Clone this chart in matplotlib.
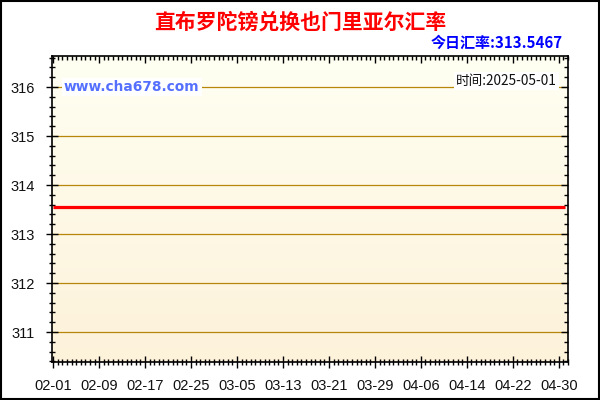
import matplotlib
matplotlib.use("Agg")
import matplotlib.pyplot as plt
import numpy as np
import datetime as dt
from matplotlib.ticker import MultipleLocator, FixedLocator, FixedFormatter, NullFormatter
from matplotlib.patches import Rectangle

# ---- data ----
start_date = dt.date(2025, 2, 1)
n_days = 90  # 02-01 .. 05-01
dates = [start_date + dt.timedelta(days=i) for i in range(n_days)]
rates = [313.5467] * n_days
tick_labels = ["02-01", "02-09", "02-17", "02-25", "03-05", "03-13",
               "03-21", "03-29", "04-06", "04-14", "04-22", "04-30"]
y_ticks = [311, 312, 313, 314, 315, 316]
title = "直布罗陀镑兑换也门里亚尔汇率"
today_text = "今日汇率:313.5467"
site_text = "www.cha678.com"
time_text = "时间:2025-05-01"

cjk = ['Noto Sans CJK SC', 'DejaVu Sans']

fig = plt.figure(figsize=(6, 4), dpi=100)
fig.patch.set_facecolor("white")
ax = fig.add_axes([52/600, 38/400, 516/600, 306/400])

x = np.arange(len(dates))
label_idx = [(dt.datetime.strptime("2025-" + t, "%Y-%m-%d").date() - start_date).days
             for t in tick_labels]

XL = (-0.2, 89.6)
YL = (310.388, 316.633)
ax.set_xlim(*XL)
ax.set_ylim(*YL)

# gradient background
grad = np.linspace(0, 1, 256).reshape(-1, 1)
top = np.array([255, 255, 242]) / 255
bot = np.array([253, 242, 218]) / 255
img = top[None, None, :] * (1 - grad[:, :, None]) + bot[None, None, :] * grad[:, :, None]
ax.imshow(img, extent=[XL[0], XL[1], YL[0], YL[1]], aspect='auto', zorder=0, origin='upper')

grid_color = "#B8860B"
for yv in y_ticks:
    ax.axhline(yv, color=grid_color, lw=0.9, zorder=1)

ax.plot(x, rates, color="#FF0000", lw=2.3, zorder=3, solid_capstyle='butt')

ax.xaxis.set_major_locator(FixedLocator(label_idx))
ax.xaxis.set_minor_locator(MultipleLocator(0.8))
ax.yaxis.set_major_locator(FixedLocator(y_ticks))
ax.yaxis.set_minor_locator(MultipleLocator(0.2))
ax.xaxis.set_major_formatter(FixedFormatter(tick_labels))

ax.tick_params(axis='both', which='major', direction='inout', length=9, width=1, color='black',
               top=False, right=False)
ax.tick_params(axis='both', which='minor', direction='inout', length=5, width=1, color='black',
               top=False, right=False)
ax.tick_params(axis='x', which='major', pad=8)
ax.tick_params(axis='y', which='major', pad=8)
for sp in ax.spines.values():
    sp.set_linewidth(1.2)
    sp.set_color("black")

# inward ticks on top and right (separate overlay axes, not shared)
ov = fig.add_axes(ax.get_position(), frameon=False)
ov.set_xlim(*XL)
ov.set_ylim(*YL)
ov.patch.set_visible(False)
ov.xaxis.set_major_locator(FixedLocator(label_idx))
ov.xaxis.set_minor_locator(MultipleLocator(0.8))
ov.yaxis.set_major_locator(FixedLocator(y_ticks))
ov.yaxis.set_minor_locator(MultipleLocator(0.2))
ov.xaxis.set_major_formatter(NullFormatter())
ov.yaxis.set_major_formatter(NullFormatter())
ov.tick_params(which='major', direction='in', length=5, width=1, color='black',
               left=False, bottom=False, right=True, top=True,
               labelleft=False, labelbottom=False)
ov.tick_params(which='minor', direction='in', length=3, width=1, color='black',
               left=False, bottom=False, right=True, top=True)

for lab in ax.get_xticklabels() + ax.get_yticklabels():
    lab.set_fontfamily("Liberation Sans")
    lab.set_fontsize(10.5)
    lab.set_color("#111111")

# texts
fig.text(0.5, 1 - 22/400, title, ha='center', va='center', color='#FF0000',
         fontsize=15, fontweight='bold', family=cjk)
fig.text(563/600, 1 - 43/400, today_text, ha='right', va='center', color='#0000FF',
         fontsize=10.8, fontweight='bold', family=cjk)

ax.text(12/516, (362-87)/306, site_text, transform=ax.transAxes, ha='left', va='center',
        color='#5570FF', fontsize=9.9, fontweight='bold', family='DejaVu Sans', zorder=4,
        bbox=dict(facecolor='white', edgecolor='none', pad=1.5))
ax.text(505/516, (362-81)/306, time_text, transform=ax.transAxes, ha='right', va='center',
        color='#111111', fontsize=9.8, family=cjk, zorder=4,
        bbox=dict(facecolor='white', edgecolor='none', pad=1.5))

# figure border
fig.add_artist(Rectangle((0.001, 0.002), 0.997, 0.996, transform=fig.transFigure,
                         fill=False, edgecolor='black', lw=1.5))

fig.savefig("out.png", dpi=100)
